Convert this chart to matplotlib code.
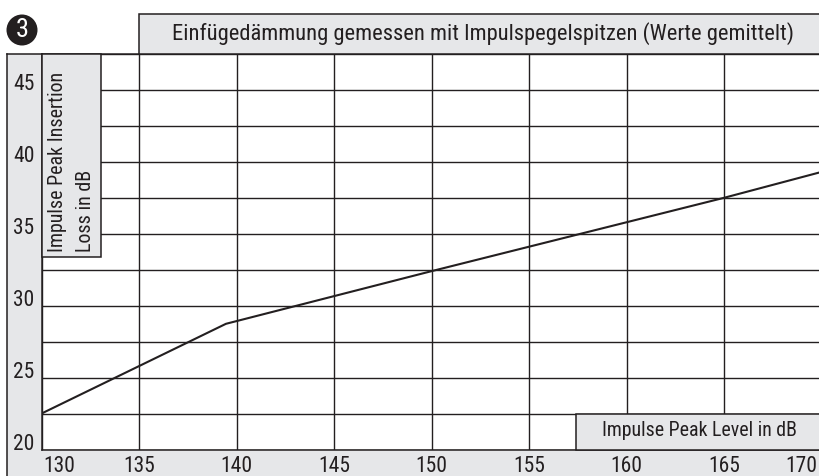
import matplotlib.pyplot as plt
import matplotlib.transforms as mtrans
from matplotlib.patches import Rectangle, Circle

plt.rcParams['font.family'] = ['Roboto Condensed', 'Archivo Narrow', 'Liberation Sans', 'DejaVu Sans']

# values
level = [130, 139.46, 150, 165, 170]
insertion_loss = [22.5, 28.74, 32.4, 37.5, 39.3]

x_ticks = [130, 135, 140, 145, 150, 155, 160, 165, 170]
y_grid = [20, 22.5, 25, 27.5, 30, 32.5, 35, 37.5, 40, 42.5, 45, 47.5]
y_labels = [20, 25, 30, 35, 40, 45]

title = 'Einfügedämmung gemessen mit Impulspegelspitzen (Werte gemittelt)'
y_title = 'Impulse Peak Insertion\nLoss in dB'
x_title = 'Impulse Peak Level in dB'

GRAY = '#e6e7e9'
INK = '#231f20'
W, H = 819, 476


def px_box(fig, x0, y0, x1, y1, edge=INK):
    # box given in image pixels, y from the top
    fig.add_artist(Rectangle((x0, H - y1), x1 - x0, y1 - y0, transform=None, facecolor=GRAY,
                             edgecolor=edge, linewidth=1.1, zorder=5))


def px_text(fig, x, y, s, **kw):
    fig.text(x / W, 1 - y / H, s, color=INK, zorder=6, **kw)


fig = plt.figure(figsize=(8.19, 4.76), dpi=100)
ax = fig.add_axes([41.5 / W, (H - 449.5) / H, (821.5 - 41.5) / W, (449.5 - 54) / H])

# gray strips behind the axes
fig.add_artist(Rectangle((7, -5), W, H - 449.5 + 5, transform=None, facecolor=GRAY, edgecolor='none', zorder=0))
fig.add_artist(Rectangle((7, -5), 34.5, H - 54 + 5, transform=None, facecolor=GRAY, edgecolor='none', zorder=0))
fig.add_artist(plt.Line2D([7, 7], [0, H - 54], transform=None, color=INK, linewidth=1.1, zorder=1))
fig.add_artist(plt.Line2D([7, 41.5], [H - 54, H - 54], transform=None, color=INK, linewidth=1.1, zorder=1))

ax.plot(level, insertion_loss, color=INK, linewidth=1.5, zorder=4, solid_joinstyle='miter')
ax.set_xlim(130, 170)
ax.set_ylim(20, 47.5)
ax.set_xticks(x_ticks)
ax.set_yticks(y_grid)
ax.set_xticklabels([str(v) for v in x_ticks])
ax.set_yticklabels([str(v) if v in y_labels else '' for v in y_grid])
ax.grid(True, color=INK, linewidth=1.0)
ax.set_axisbelow(True)
ax.tick_params(length=0, labelsize=15.5, colors=INK)
ax.tick_params(axis='x', pad=5)
ax.tick_params(axis='y', pad=5)
for s in ax.spines.values():
    s.set_color(INK)
    s.set_linewidth(1.1)

# y labels sit above their gridline
up = mtrans.ScaledTranslation(0, 7.5 / 100, fig.dpi_scale_trans)
for lab in ax.get_yticklabels():
    lab.set_transform(lab.get_transform() + up)
xlabs = ax.get_xticklabels()
xlabs[0].set_ha('left')
xlabs[0].set_transform(xlabs[0].get_transform() + mtrans.ScaledTranslation(1.5 / 100, 0, fig.dpi_scale_trans))
xlabs[-1].set_ha('right')
xlabs[-1].set_transform(xlabs[-1].get_transform() + mtrans.ScaledTranslation(-4 / 100, 0, fig.dpi_scale_trans))

# label boxes
px_box(fig, 139, 14, 825, 54)
px_text(fig, 172, 33.5, title, fontsize=16.2, ha='left', va='center')
px_box(fig, 41.5, 54, 100.5, 257)
px_text(fig, 71.5, 252, y_title, fontsize=14.4, rotation=90, ha='center', va='bottom', multialignment='left', linespacing=1.6)
px_box(fig, 576, 413.5, 825, 449.5)
px_text(fig, 602, 431, x_title, fontsize=14.3, ha='left', va='center')

# numbered badge
fig.add_artist(Circle((22, H - 30), 15.5, transform=None, facecolor=INK, edgecolor='none'))
fig.text(22 / W, 1 - 30 / H, '3', color='white', fontsize=19, ha='center', va='center')

fig.savefig('out.png', dpi=100)
